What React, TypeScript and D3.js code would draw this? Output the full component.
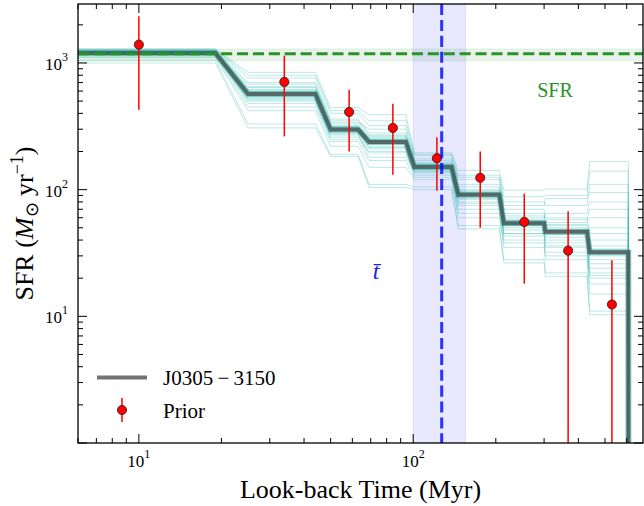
import React from 'react';
import * as d3 from 'd3';

// ---- data ----
const binStart = [0.5, 25, 50, 69, 101, 146, 214, 303, 440];
const binEnd = [19, 44, 63, 94, 138, 206, 300, 430, 608];
const medianSFR = [1200, 569, 298, 238, 151, 91, 54.4, 46.6, 32];

const sample01 = [1230, 620, 320, 250, 160, 95, 58, 50, 36];
const sample02 = [1180, 540, 280, 220, 145, 88, 50, 42, 28];
const sample03 = [1260, 700, 360, 280, 175, 110, 70, 60, 45];
const sample04 = [1150, 480, 250, 200, 135, 80, 45, 38, 24];
const sample05 = [1210, 600, 300, 240, 155, 92, 55, 48, 33];
const sample06 = [1290, 843, 444, 391, 195, 142, 99, 101, 167];
const sample07 = [1050, 330, 190, 110, 105, 52, 28, 22, 11];
const sample08 = [1200, 590, 310, 260, 150, 100, 60, 65, 80];
const sample09 = [1170, 520, 270, 180, 140, 75, 40, 30, 18];
const sample10 = [1240, 650, 340, 300, 170, 120, 80, 75, 110];
const sample11 = [1100, 420, 220, 150, 120, 65, 35, 28, 15];
const sample12 = [1220, 560, 290, 230, 158, 85, 52, 44, 30];
const sample13 = [1000, 307, 183, 104, 100, 49, 26.4, 20.7, 10.3];
const sample14 = [1270, 760, 400, 320, 185, 130, 88, 90, 140];
const sample15 = [1190, 575, 305, 245, 148, 90, 56, 52, 40];
const sample16 = [1160, 500, 260, 210, 130, 70, 45, 35, 22];
const sample17 = [1250, 680, 350, 270, 165, 105, 65, 55, 60];
const sample18 = [1205, 610, 295, 235, 152, 96, 54, 47, 34];
const sample19 = [1120, 450, 240, 170, 125, 60, 38, 32, 20];
const sample20 = [1280, 800, 420, 350, 190, 125, 75, 85, 95];
const sample21 = [1195, 530, 285, 215, 142, 84, 48, 40, 26];
const sample22 = [1215, 640, 330, 265, 162, 98, 62, 58, 70];
const sample23 = [1175, 510, 275, 195, 138, 78, 43, 36, 21];
const sample24 = [1225, 585, 315, 255, 156, 94, 57, 53, 50];
const samples = [sample01, sample02, sample03, sample04, sample05, sample06, sample07, sample08, sample09, sample10,
  sample11, sample12, sample13, sample14, sample15, sample16, sample17, sample18, sample19, sample20,
  sample21, sample22, sample23, sample24];

const priorTime = [10, 33.9, 58.4, 84.3, 122, 175.5, 254, 367, 530];
const priorSFR = [1395, 708, 410, 307, 177, 124, 55.6, 33, 12.4];
const priorLo = [428, 263, 200, 131, 98, 50, 18.1, 0.5, 0.5];
const priorHi = [2334, 1142, 615, 477, 259, 200, 93, 67.5, 27.7];

const sfrObs = 1180;
const sfrObsLo = 1040;
const sfrObsHi = 1290;

const tBar = 127;
const tBarLo = 100;
const tBarHi = 155;

const xDomain = [6, 688];
const yDomain = [1, 2920];

// ---- layout ----
const W = 644;
const H = 506;
const L = 78, R = 643, T = 4, B = 443;
const FONT = '"Liberation Serif", "Times New Roman", serif';

const x = d3.scaleLog().domain(xDomain).range([L, R]);
const y = d3.scaleLog().domain(yDomain).range([B, T]);

function stepPoints(vals: number[]): [number, number][] {
  const pts: [number, number][] = [];
  vals.forEach((v, i) => {
    pts.push([binStart[i], v]);
    pts.push([binEnd[i], v]);
  });
  pts.push([binEnd[binEnd.length - 1] * 1.004, 1e-3]);
  return pts;
}

const line = d3.line<[number, number]>().x(d => x(d[0])).y(d => y(d[1]));

const isMajor = (v: number) => Math.abs(Math.log10(v) - Math.round(Math.log10(v))) < 1e-9;

export default function App() {
  const xTicks = x.ticks();
  const yTicks = y.ticks();
  const MAJ = 9, MIN = 5;
  const medPath = line(stepPoints(medianSFR)) || '';
  return (
    <div>
      <style>{`body{margin:0}`}</style>
      <svg width={W} height={H} style={{ display: 'block' }} fontFamily={FONT}>
        <defs>
          <clipPath id="plotclip">
            <rect x={L} y={T} width={R - L} height={B - T} />
          </clipPath>
        </defs>
        <rect x={0} y={0} width={W} height={H} fill="white" />
        <g clipPath="url(#plotclip)">
          {/* t-bar band */}
          <rect x={x(tBarLo)} y={T} width={x(tBarHi) - x(tBarLo)} height={B - T} fill="rgb(0,0,255)" fillOpacity={0.09} stroke="rgb(0,0,255)" strokeOpacity={0.1} />
          {/* observed SFR band */}
          <rect x={L} y={y(sfrObsHi)} width={R - L} height={y(sfrObsLo) - y(sfrObsHi)} fill="rgb(0,128,0)" fillOpacity={0.09} stroke="rgb(0,128,0)" strokeOpacity={0.08} />
          {/* samples */}
          {samples.map((s, i) => (
            <path key={i} d={line(stepPoints(s)) || ''} fill="none" stroke="#20b2aa" strokeOpacity={0.3} strokeWidth={1} />
          ))}
          {/* median halo */}
          <path d={medPath} fill="none" stroke="#20b2aa" strokeOpacity={0.55} strokeWidth={6} />
          <path d={medPath} fill="none" stroke="#505050" strokeOpacity={0.8} strokeWidth={4} />
          {/* observed SFR line */}
          <line x1={L} x2={R} y1={y(sfrObs)} y2={y(sfrObs)} stroke="#2a922a" strokeWidth={3} strokeDasharray="11.1 4.8" />
          {/* priors */}
          {priorTime.map((t, i) => (
            <g key={i}>
              <line x1={x(t)} x2={x(t)} y1={y(priorHi[i])} y2={y(priorLo[i])} stroke="#ff0000" strokeWidth={1.5} />
              <circle cx={x(t)} cy={y(priorSFR[i])} r={4.6} fill="#ff0000" stroke="#222" strokeWidth={0.8} />
            </g>
          ))}
          {/* t-bar line */}
          <line x1={x(tBar)} x2={x(tBar)} y1={T} y2={B} stroke="#0000ff" strokeOpacity={0.8} strokeWidth={3} strokeDasharray="11.1 4.8" />
        </g>

        {/* annotations */}
        <text x={555} y={97} fill="#2a922a" fontSize={20} textAnchor="middle">SFR</text>
        <text x={376} y={279} fill="#2222ee" fontSize={24} fontStyle="italic" textAnchor="middle">t̄</text>

        {/* frame */}
        <rect x={L} y={T} width={R - L} height={B - T} fill="none" stroke="#000" strokeWidth={1.3} />

        {/* x ticks */}
        {xTicks.map((t, i) => {
          const len = isMajor(t) ? MAJ : MIN;
          const px = x(t);
          return (
            <g key={'xt' + i}>
              <line x1={px} x2={px} y1={B} y2={B - len} stroke="#000" strokeWidth={1} />
              <line x1={px} x2={px} y1={T} y2={T + len} stroke="#000" strokeWidth={1} />
              {isMajor(t) && (
                <text x={px} y={B + 23.5} fontSize={17} textAnchor="middle">
                  10<tspan fontSize={12} dy={-9}>{Math.round(Math.log10(t))}</tspan>
                </text>
              )}
            </g>
          );
        })}
        {/* y ticks */}
        {yTicks.map((t, i) => {
          const len = isMajor(t) ? MAJ : MIN;
          const py = y(t);
          if (py < T - 0.5 || py > B + 0.5) return null;
          const showLabel = isMajor(t) && t >= 10;
          return (
            <g key={'yt' + i}>
              <line x1={L} x2={L + len} y1={py} y2={py} stroke="#000" strokeWidth={1} />
              <line x1={R} x2={R - len} y1={py} y2={py} stroke="#000" strokeWidth={1} />
              {showLabel && (
                <text x={68} y={py + 7} fontSize={17} textAnchor="end">
                  10<tspan fontSize={12} dy={-9}>{Math.round(Math.log10(t))}</tspan>
                </text>
              )}
            </g>
          );
        })}

        {/* axis labels */}
        <text x={(L + R) / 2} y={498} fontSize={26} textAnchor="middle">Look-back Time (Myr)</text>
        <text transform={`translate(33,${(T + B) / 2}) rotate(-90)`} fontSize={26} textAnchor="middle">
          SFR (<tspan fontStyle="italic">M</tspan><tspan fontSize={18} dy={5}>⊙</tspan><tspan dy={-5}>{' yr'}</tspan><tspan fontSize={18} dy={-10}>−1</tspan><tspan dy={10}>)</tspan>
        </text>

        {/* legend */}
        <line x1={97} x2={147} y1={377.5} y2={377.5} stroke="#505050" strokeOpacity={0.8} strokeWidth={4} />
        <text x={163} y={385} fontSize={21}>{'J0305\u2009\u2212\u20093150'}</text>
        <line x1={122} x2={122} y1={398} y2={422} stroke="#ff0000" strokeWidth={1.5} />
        <circle cx={122} cy={410} r={4.6} fill="#ff0000" stroke="#222" strokeWidth={0.8} />
        <text x={163} y={418} fontSize={21}>Prior</text>
      </svg>
    </div>
  );
}
